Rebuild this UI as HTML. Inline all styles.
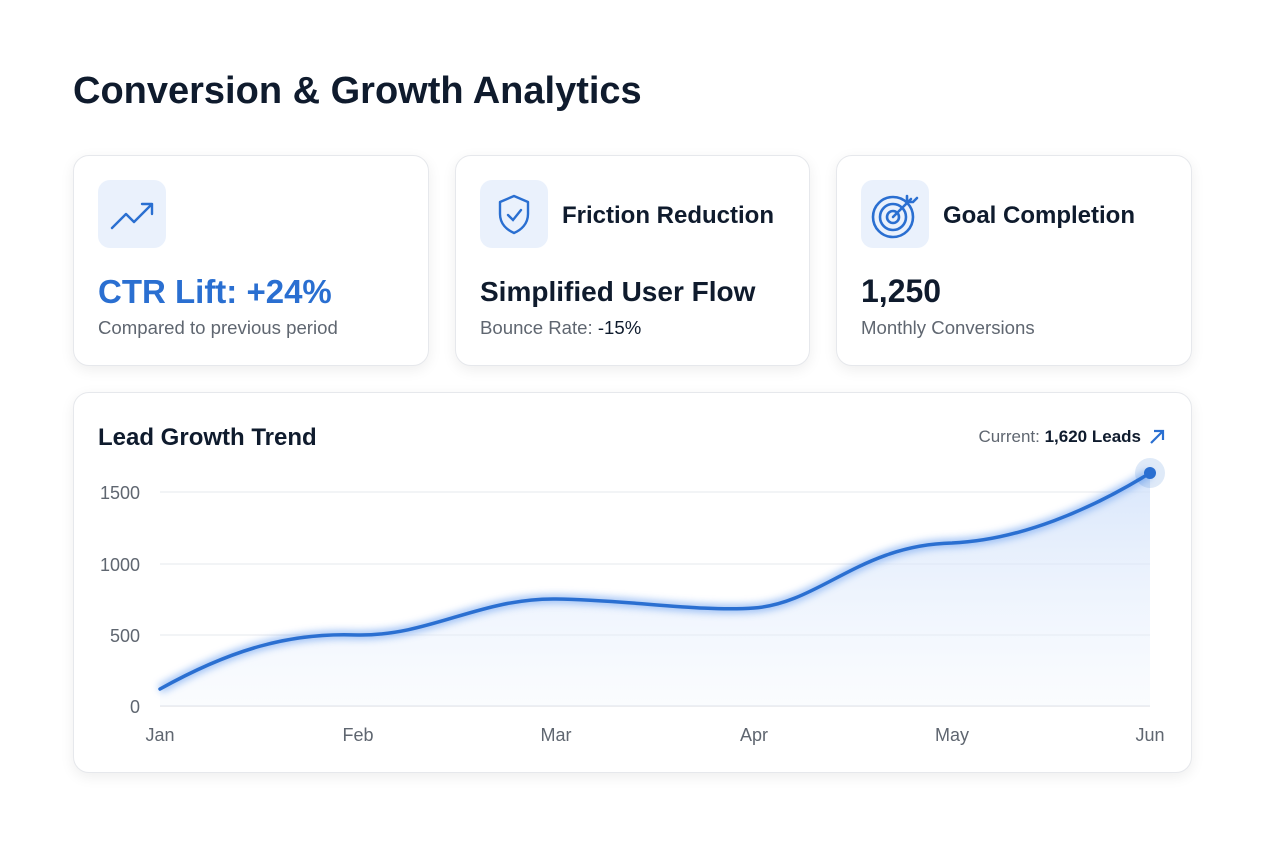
<!DOCTYPE html>
<html><head><style>
body{margin:0;width:1264px;height:848px;background:#fff;font-family:"Liberation Sans",sans-serif;position:relative;overflow:hidden}
h1{position:absolute;left:73px;top:70px;margin:0;font-size:38px;font-weight:bold;color:#0f1b2d}
.card{position:absolute;background:#fff;border:1px solid #e6e8ec;border-radius:16px;box-shadow:0 4px 14px rgba(0,0,0,0.07)}
.ic{position:absolute;left:24px;top:24px;width:68px;height:68px;border-radius:12px;background:#eaf1fc}
.t{position:absolute;left:106px;top:46px;font-size:24px;font-weight:bold;color:#0f1b2d}
.big{position:absolute;left:24px;top:117px;font-size:32px;font-weight:bold;color:#0f1b2d}
.sub{position:absolute;left:24px;top:161px;font-size:18.6px;color:#5f6670}
</style></head><body>
<h1>Conversion &amp; Growth Analytics</h1>
<div class="card" style="left:73px;top:155px;width:354px;height:209px">
<div class="ic"><svg width="68" height="68"><path d="M14 48 L28 34 L36 42 L54 24 M44 24 H54 V34" stroke="#2a6fd1" stroke-width="2.4" fill="none" stroke-linecap="round" stroke-linejoin="round"/></svg></div>
<div class="big" style="color:#2a6fd1;font-size:33px">CTR Lift: +24%</div>
<div class="sub">Compared to previous period</div></div>
<div class="card" style="left:455px;top:155px;width:353px;height:209px">
<div class="ic"><svg width="68" height="68"><path d="M34 16 L48 22 V34 C48 44 41 50 34 53 C27 50 20 44 20 34 V22 Z" stroke="#2a6fd1" stroke-width="2.4" fill="none" stroke-linejoin="round"/><path d="M28 35 L33 40 L41 30" stroke="#2a6fd1" stroke-width="2.4" fill="none" stroke-linecap="round"/></svg></div>
<div class="t">Friction Reduction</div>
<div class="big" style="font-size:28px;top:120px">Simplified User Flow</div>
<div class="sub">Bounce Rate: <span style="color:#0f1b2d">-15%</span></div></div>
<div class="card" style="left:836px;top:155px;width:354px;height:209px">
<div class="ic"><svg width="68" height="68"><circle cx="32" cy="37" r="20" stroke="#2a6fd1" stroke-width="2.6" fill="none"/><circle cx="32" cy="37" r="13" stroke="#2a6fd1" stroke-width="2.6" fill="none"/><circle cx="32" cy="37" r="6" stroke="#2a6fd1" stroke-width="2.6" fill="none"/><path d="M32 37 L50 19 M46 16 L46 22 L52 22 L56 18" stroke="#2a6fd1" stroke-width="2.6" fill="none" stroke-linecap="round"/></svg></div>
<div class="t">Goal Completion</div>
<div class="big">1,250</div>
<div class="sub">Monthly Conversions</div></div>
<div class="card" style="left:73px;top:392px;width:1117px;height:379px">
<div style="position:absolute;left:24px;top:31px;font-size:24px;font-weight:bold;color:#0f1b2d">Lead Growth Trend</div>
<div style="position:absolute;right:50px;top:34px;font-size:17px;color:#5f6670">Current: <span style="color:#0f1b2d;font-weight:bold">1,620 Leads</span></div>
<svg style="position:absolute;right:24px;top:34px" width="20" height="20"><path d="M4 16 L16 4 M7 4 H16 V13" stroke="#2a6fd1" stroke-width="2.2" fill="none"/></svg>
</div>
<svg style="position:absolute;left:0;top:0" width="1264" height="848">
<defs><linearGradient id="g" x1="0" y1="0" x2="0" y2="1"><stop offset="0" stop-color="#cfe0fa" stop-opacity="0.8"/><stop offset="1" stop-color="#eef4fd" stop-opacity="0.3"/></linearGradient>
<filter id="b"><feGaussianBlur stdDeviation="4"/></filter></defs>
<g stroke="#e6e8ec" stroke-width="1"><line x1="160" y1="492" x2="1150" y2="492"/><line x1="160" y1="564" x2="1150" y2="564"/><line x1="160" y1="635" x2="1150" y2="635"/><line x1="160" y1="706" x2="1150" y2="706" stroke="#d8dbe0"/></g>
<g font-size="18" fill="#5f6670" text-anchor="end"><text x="140" y="499">1500</text><text x="140" y="571">1000</text><text x="140" y="642">500</text><text x="140" y="713">0</text></g>
<g font-size="18" fill="#5f6670" text-anchor="middle"><text x="160" y="741">Jan</text><text x="358" y="741">Feb</text><text x="556" y="741">Mar</text><text x="754" y="741">Apr</text><text x="952" y="741">May</text><text x="1150" y="741">Jun</text></g>
<path d="M160 689 C230 650 290 632 358 635 C430 636 480 598 556 599 C630 600 700 612 754 608 C820 603 860 545 952 543 C1020 540 1090 510 1150 473 L1150 706 L160 706 Z" fill="url(#g)"/>
<path d="M160 689 C230 650 290 632 358 635 C430 636 480 598 556 599 C630 600 700 612 754 608 C820 603 860 545 952 543 C1020 540 1090 510 1150 473" stroke="#6ea2f0" stroke-width="8" fill="none" filter="url(#b)" opacity="0.7"/>
<path d="M160 689 C230 650 290 632 358 635 C430 636 480 598 556 599 C630 600 700 612 754 608 C820 603 860 545 952 543 C1020 540 1090 510 1150 473" stroke="#2a6fd1" stroke-width="3.5" fill="none" stroke-linecap="round"/>
<circle cx="1150" cy="473" r="15" fill="#2a6fd1" opacity="0.15"/><circle cx="1150" cy="473" r="6" fill="#2a6fd1"/>
</svg>
</body></html>
